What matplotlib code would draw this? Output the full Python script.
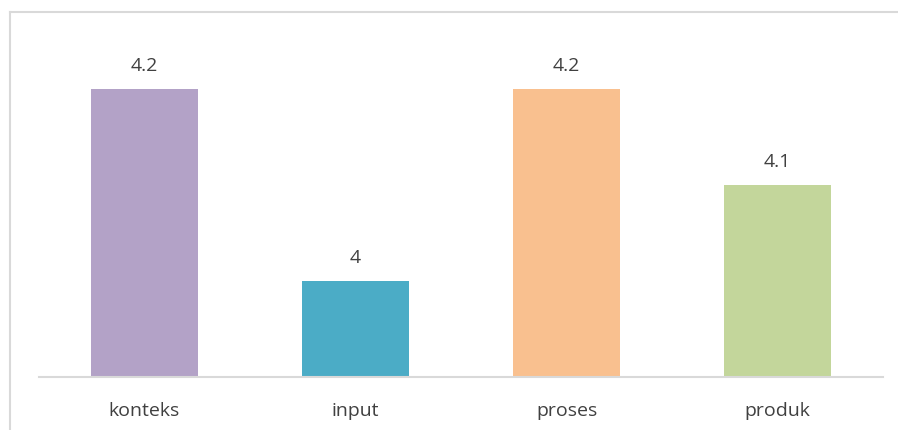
import matplotlib.pyplot as plt
from matplotlib.lines import Line2D

categories = ["konteks", "input", "proses", "produk"]
values = [4.2, 4.0, 4.2, 4.1]
value_labels = ["4.2", "4", "4.2", "4.1"]
colors = ["#B3A2C7", "#4BACC6", "#F9C08F", "#C3D69B"]

W, H = 898, 430
fig = plt.figure(figsize=(W / 100, H / 100), dpi=100)
plt.rcParams["font.family"] = ["Open Sans", "DejaVu Sans"]

# plot area in pixel terms
left, right, bottom, top = 39, 883, 377, 41
ax = fig.add_axes([left / W, 1 - bottom / H, (right - left) / W, (bottom - top) / H])

x = range(len(categories))
bars = ax.bar(x, values, width=0.51, color=colors, bottom=0)
ax.set_ylim(3.9, 3.9 + (bottom - top) / 960)
ax.set_xlim(-0.5, len(categories) - 0.5)

for xi, v, lab in zip(x, values, value_labels):
    ax.annotate(lab, (xi, v), xytext=(0, 18), textcoords="offset pixels",
                ha="center", va="baseline", fontsize=14, color="#404040")

ax.set_xticks(list(x))
ax.set_xticklabels(categories, fontsize=14, color="#404040", va="baseline")
ax.tick_params(axis="x", length=0, pad=39 * 0.72)
ax.set_yticks([])
for side in ["top", "right", "left"]:
    ax.spines[side].set_visible(False)
ax.spines["bottom"].set_color("#D9D9D9")
ax.spines["bottom"].set_linewidth(1.5)

# chart border (left and top edges)
fig.add_artist(Line2D([9.5 / W, 9.5 / W], [0, 1 - 11.5 / H], color="#D9D9D9", lw=1.5))
fig.add_artist(Line2D([9.5 / W, 1], [1 - 11.5 / H, 1 - 11.5 / H], color="#D9D9D9", lw=1.5))

fig.savefig("out.png", dpi=100)
